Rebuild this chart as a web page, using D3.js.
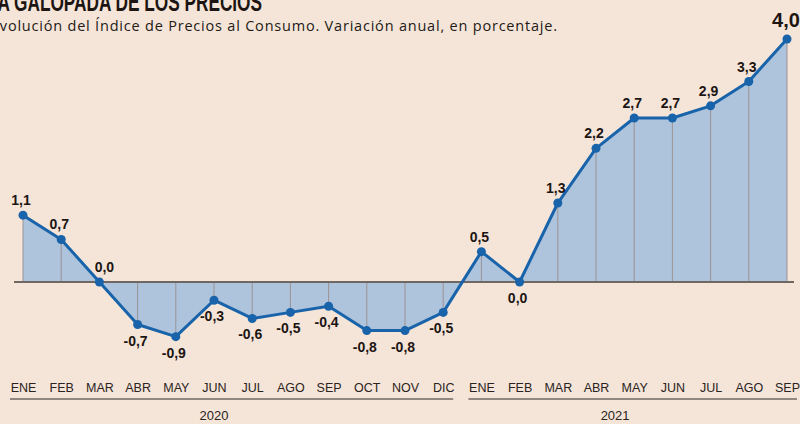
<!DOCTYPE html>
<html><head><meta charset="utf-8">
<script src="https://cdn.jsdelivr.net/npm/d3@7/dist/d3.min.js"></script>
<style>
html,body{margin:0;padding:0;background:#f5e5d9;}
svg{display:block;}
</style></head>
<body>
<svg id="c" width="800" height="424"></svg>
<script>
const title = "LA GALOPADA DE LOS PRECIOS";
const subtitle = "Evolución del Índice de Precios al Consumo. Variación anual, en porcentaje.";
const months = ["ENE","FEB","MAR","ABR","MAY","JUN","JUL","AGO","SEP","OCT","NOV","DIC",
                "ENE","FEB","MAR","ABR","MAY","JUN","JUL","AGO","SEP"];
const years = ["2020","2021"];
const yearOfPoint = [0,0,0,0,0,0,0,0,0,0,0,0,1,1,1,1,1,1,1,1,1];
const values = [1.1,0.7,0.0,-0.7,-0.9,-0.3,-0.6,-0.5,-0.4,-0.8,-0.8,-0.5,
                0.5,0.0,1.3,2.2,2.7,2.7,2.9,3.3,4.0];
const labelSide = ["t","t","t","b","b","b","b","b","b","b","b","b",
                   "t","b","t","t","t","t","t","t","t"];

const svg = d3.select("#c");
const idx = d3.range(values.length);
const x = d3.scaleLinear().domain([0, values.length-1]).range([23, 787]);
const y = d3.scaleLinear().domain([0, 4]).range([282, 39]);
const fmt = v => d3.format(".1f")(v).replace(".", ",").replace("\u2212", "-");

// title
svg.append("text").attr("x", -13).attr("y", 11)
  .attr("textLength", 275).attr("lengthAdjust","spacingAndGlyphs")
  .attr("font-family","'Liberation Sans',sans-serif")
  .attr("font-weight","bold").attr("font-size",25).attr("fill","#1d1512").text(title);
svg.append("text").attr("x", -9).attr("y", 31)
  .attr("textLength", 566).attr("lengthAdjust","spacing")
  .attr("font-family","'Open Sans','Liberation Sans',sans-serif")
  .attr("font-size",14.5).attr("fill","#231a16").text(subtitle);

// area
const area = d3.area().x(i=>x(i)).y0(y(0)).y1(i=>y(values[i]));
svg.append("path").datum(idx).attr("d", area).attr("fill","#aec3dc");

// drop lines
svg.append("g").selectAll("line").data(idx).join("line")
  .attr("x1", i=>x(i)).attr("x2", i=>x(i))
  .attr("y1", i=>y(values[i])).attr("y2", y(0))
  .attr("stroke","#9b9393").attr("stroke-width",1);

// zero line
svg.append("line").attr("x1",14).attr("x2",794).attr("y1",y(0)).attr("y2",y(0))
  .attr("stroke","#6f6762").attr("stroke-width",2);

// line
const line = d3.line().x(i=>x(i)).y(i=>y(values[i]));
svg.append("path").datum(idx).attr("d", line).attr("fill","none")
  .attr("stroke","#1863a9").attr("stroke-width",3).attr("stroke-linejoin","round");
svg.append("g").selectAll("circle").data(idx).join("circle")
  .attr("cx", i=>x(i)).attr("cy", i=>y(values[i])).attr("r",4.5).attr("fill","#1863a9");

// value labels
const last = values.length-1;
svg.append("g").selectAll("text").data(idx).join("text")
  .attr("x", i=> i===last ? x(i)-1 : (values[i]===0 && labelSide[i]==="t" ? x(i)+5 : x(i)-2))
  .attr("y", i=> i===last ? y(values[i])-12 : (labelSide[i]==="t" ? y(values[i])-10 : y(values[i])+21))
  .attr("text-anchor","middle")
  .attr("font-family","'Liberation Sans',sans-serif").attr("font-weight","bold")
  .attr("font-size", i=> i===last ? 20 : 14).attr("fill","#1d1512")
  .text(i=>fmt(values[i]));

// x axis month labels
const axisG = svg.append("g").attr("transform","translate(0,392)");
const ax = d3.axisBottom(x).tickValues(idx).tickSize(0).tickPadding(0).tickFormat(i=>months[i]);
axisG.call(ax);
axisG.select(".domain").remove();
axisG.selectAll("text").attr("dy",0).attr("font-family","'Liberation Sans',sans-serif")
  .attr("font-size",12.5).attr("fill","#2a2320");

// year groups
years.forEach((yr, k) => {
  const pts = idx.filter(i=>yearOfPoint[i]===k);
  const x0 = x(d3.min(pts)) - 13, x1 = x(d3.max(pts)) + 10;
  svg.append("line").attr("x1", k===0 ? 10 : x0).attr("x2", x1).attr("y1",399).attr("y2",399)
    .attr("stroke","#6f6762").attr("stroke-width",1.5);
  const mid = k===0 ? x(5) : x(12 + 3.5);
  svg.append("text").attr("x", mid).attr("y", 420).attr("text-anchor","middle")
    .attr("font-family","'Liberation Sans',sans-serif").attr("font-size",13).attr("fill","#2a2320")
    .text(yr);
});
</script>
</body></html>
